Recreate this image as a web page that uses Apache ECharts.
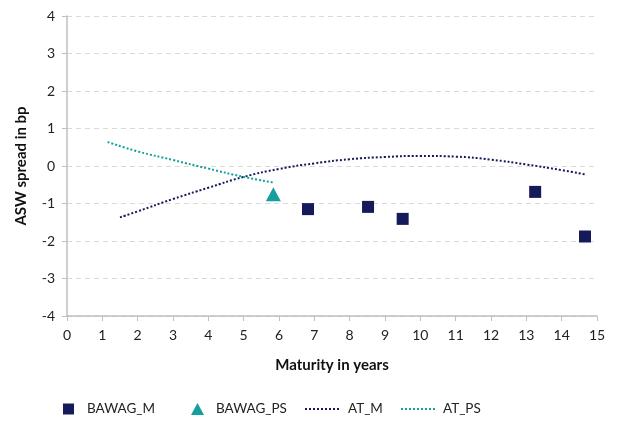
<!DOCTYPE html>
<html><head><meta charset="utf-8">
<script src="https://cdn.jsdelivr.net/npm/echarts@6/dist/echarts.min.js"></script>
<style>html,body{margin:0;padding:0;background:#fff}#c{width:617px;height:421px}</style>
</head><body><div id="c"></div>
<script>
const bawagM = [[6.82,-1.15],[8.52,-1.09],[9.5,-1.41],[13.25,-0.69],[14.66,-1.88]];
const bawagPS = [[5.84,-0.75]];
const atM = [[1.5,-1.37],[2,-1.21],[3,-0.88],[4,-0.58],[5,-0.29],[6,-0.08],[7,0.07],[8,0.18],[9,0.24],[10,0.27],[11,0.25],[12,0.17],[13,0.04],[14,-0.11],[14.7,-0.23]];
const atPS = [[1.15,0.64],[2,0.39],[3,0.16],[4,-0.07],[5,-0.29],[5.84,-0.44]];
const xTicks = {min:0,max:15,interval:1};
const yTicks = {min:-4,max:4,interval:1};
const NAVY = '#141a5a', TEAL = '#149e9e';
const font = 'Lato, "Open Sans", sans-serif';
const dotIcon = 'path://' + Array.from({length:9},(_,i)=>'M'+(i*4)+',0h2v2h-2z').join(' ');
const chart = echarts.init(document.getElementById('c'), null, {renderer:'canvas'});
const txt = (p)=>({fontFamily:font,fontSize:13.5,color:'#222',padding:[0,0,0,p]});
chart.setOption({
  animation:false,
  grid:{left:67,right:20,top:16,bottom:105},
  xAxis:{type:'value',min:xTicks.min,max:xTicks.max,interval:xTicks.interval,
    name:'Maturity in years',nameLocation:'middle',nameGap:42,
    nameTextStyle:{fontFamily:font,fontWeight:'bold',fontSize:15,color:'#111'},
    axisLine:{onZero:false,lineStyle:{color:'#bfbfbf',width:1.5}},
    axisTick:{show:true,length:5,lineStyle:{color:'#bfbfbf'}},
    axisLabel:{fontFamily:font,fontSize:14,color:'#222',margin:12},
    splitLine:{show:false}},
  yAxis:{type:'value',min:yTicks.min,max:yTicks.max,interval:yTicks.interval,
    name:'ASW spread in bp',nameLocation:'middle',nameGap:38,
    nameTextStyle:{fontFamily:font,fontWeight:'bold',fontSize:15,color:'#111'},
    axisLine:{show:true,onZero:false,lineStyle:{color:'#bfbfbf',width:1.5}},
    axisTick:{show:true,length:5,lineStyle:{color:'#bfbfbf'}},
    axisLabel:{fontFamily:font,fontSize:14,color:'#222',margin:12},
    splitLine:{show:true,lineStyle:{color:'#d9d9d9',type:[5,4],width:1}}},
  legend:[
    {top:397,left:58,itemWidth:11,itemHeight:11,textStyle:txt(8),data:[{name:'BAWAG_M',icon:'rect'}]},
    {top:397,left:186,itemWidth:13,itemHeight:12,textStyle:txt(7),data:[{name:'BAWAG_PS',icon:'triangle'}]},
    {top:397,left:300,itemWidth:34,itemHeight:2,textStyle:txt(4),data:[{name:'AT_M',icon:dotIcon}]},
    {top:397,left:396,itemWidth:34,itemHeight:2,textStyle:txt(3),data:[{name:'AT_PS',icon:dotIcon}]}
  ],
  series:[
    {name:'BAWAG_M',type:'scatter',data:bawagM,symbol:'rect',symbolSize:12,itemStyle:{color:NAVY,opacity:1},z:5},
    {name:'BAWAG_PS',type:'scatter',data:bawagPS,symbol:'triangle',symbolSize:[15,14],itemStyle:{color:TEAL,opacity:1},z:5},
    {name:'AT_M',type:'line',data:atM,smooth:true,symbol:'none',lineStyle:{color:NAVY,width:2,type:[2,2]},itemStyle:{color:NAVY}},
    {name:'AT_PS',type:'line',data:atPS,smooth:true,symbol:'none',lineStyle:{color:TEAL,width:2,type:[2,2]},itemStyle:{color:TEAL}}
  ]
});
</script></body></html>
